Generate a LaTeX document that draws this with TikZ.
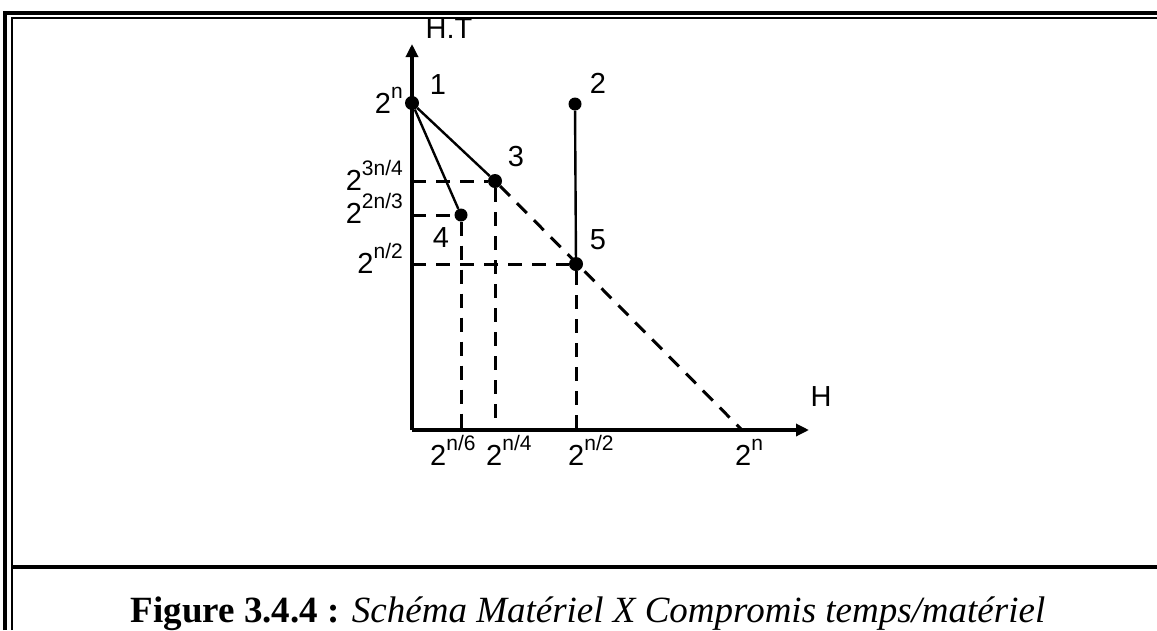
\documentclass[tikz,border=0pt]{standalone}
\usepackage{fontspec}
\setmainfont{Liberation Serif}
\setsansfont{Liberation Sans}
\usetikzlibrary{arrows.meta, positioning}

\newcommand{\pw}[1]{2\raisebox{0.5em}{\fontsize{21}{22}\selectfont #1}}

\begin{document}
\begin{tikzpicture}[
        x=1pt, y=-1pt,
        axis/.style = {line width=3.2pt, -{Triangle[length=13pt, width=12pt]}},
        solidline/.style = {line width=2.4pt},
        dashline/.style = {line width=3pt, dash pattern=on 14pt off 10pt},
        dot/.style = {circle, fill=black, inner sep=0pt, minimum size=14pt},
        lbl/.style = {font=\sffamily\fontsize{29}{30}\selectfont, inner sep=0pt},
        ticklbl/.style = {lbl, anchor=base west},
        caption/.style = {font=\fontsize{37}{40}\selectfont, inner sep=0pt, anchor=base}
    ]
        \useasboundingbox (0,0) rectangle (1157,630);

        % Frame
        \draw [line width=3.2pt] (5,630) -- (5,13) -- (1157,13);
        \draw [line width=1.8pt] (12,630) -- (12,18) -- (1157,18);
        \draw [line width=3.2pt] (12,567) -- (1157,567);

        % Axes
        \coordinate (O) at (412,430);
        \coordinate (ytip) at (412,44);
        \coordinate (xtip) at (809,430);
        \coordinate (xn) at (742,430);
        \draw [axis] (O) -- (ytip);
        \draw [axis] (O) -- (xtip);
        \node (HT) [lbl] at (449,29) {H.T};
        \node (H) [lbl] at (821,397) {H};

        % Points
        \node (p1) [dot] at (412,103) {};
        \node (p2) [dot, minimum size=13pt] at (575,104) {};
        \node (p3) [dot] at (495,181) {};
        \node (p4) [dot, minimum size=13pt] at (461,215) {};
        \node (p5) [dot] at (576,264) {};

        % Point labels
        \node (l1) [lbl] at ([xshift=26pt, yshift=18pt]p1) {1};
        \node (l2) [lbl] at ([xshift=23pt, yshift=21pt]p2) {2};
        \node (l3) [lbl] at ([xshift=21pt, yshift=24pt]p3) {3};
        \node (l4) [lbl] at ([xshift=-20pt, yshift=-23pt]p4) {4};
        \node (l5) [lbl] at ([xshift=22pt, yshift=24pt]p5) {5};

        % Solid segments
        \draw [solidline] (p1) -- (p3);
        \draw [solidline] (p1) -- (p4);
        \draw [solidline] (p2) -- (p5);

        % Dashed guides
        \draw [dashline] (p3) -- (xn);
        \draw [dashline] (O |- p3) -- (p3);
        \draw [dashline] (O |- p4) -- (p4);
        \draw [dashline] (O |- p5) -- (p5);
        \draw [dashline] (p4) -- (p4 |- O);
        \draw [dashline] (p3) -- (p3 |- O);
        \draw [dashline] (p5) -- (p5 |- O);

        % Y labels
        \node (yn)   [lbl, anchor=base east] at ([xshift=-9pt, yshift=-10pt]O |- p1) {\pw{n}};
        \node (y3n4) [lbl, anchor=base east] at ([xshift=-9pt, yshift=-9pt]O |- p3) {\pw{3n/4}};
        \node (y2n3) [lbl, anchor=base east] at ([xshift=-9pt, yshift=-8pt]O |- p4) {\pw{2n/3}};
        \node (yn2)  [lbl, anchor=base east] at ([xshift=-9pt, yshift=-9pt]O |- p5) {\pw{n/2}};

        % X labels
        \node (xn6) [ticklbl] at ([xshift=-31pt, yshift=-35pt]p4 |- O) {\pw{n/6}};
        \node (xn4) [ticklbl] at ([xshift=-9pt, yshift=-35pt]p3 |- O) {\pw{n/4}};
        \node (xn2) [ticklbl] at ([xshift=-8pt, yshift=-35pt]p5 |- O) {\pw{n/2}};
        \node (xnn) [ticklbl] at ([xshift=-7pt, yshift=-35pt]xn) {\pw{n}};

        % Caption
        \node (cap) [caption] at (588,622) {\textbf{Figure 3.4.4 :} \textit{Schéma Matériel X Compromis temps/matériel}};
    \end{tikzpicture}
\end{document}
